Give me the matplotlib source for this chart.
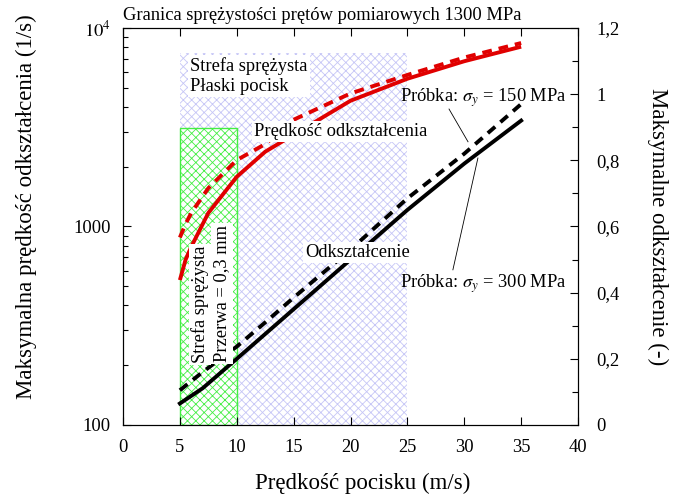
import matplotlib
matplotlib.use("Agg")
import matplotlib.pyplot as plt
from matplotlib.ticker import FuncFormatter, MultipleLocator, FixedLocator, LogLocator, NullFormatter
from matplotlib.patches import Rectangle

plt.rcParams['font.family'] = ['Liberation Serif', 'DejaVu Serif']
plt.rcParams['mathtext.fontset'] = 'stix'
plt.rcParams['hatch.linewidth'] = 0.6

# Data
speed_rate = [5, 5.5, 6, 7.5, 10, 12.5, 15, 20, 25, 30, 35]
rate_300 = [537, 680, 790, 1170, 1780, 2380, 2900, 4300, 5550, 6800, 8050]   # solid red (1/s)
rate_150 = [880, 1030, 1170, 1560, 2160, 2600, 3450, 4680, 5800, 7100, 8400]  # dashed red (1/s)

speed_strain = [5, 7, 10, 12.5, 15, 20, 25, 30, 35]
strain_300 = [0.065, 0.111, 0.20, 0.275, 0.35, 0.50, 0.65, 0.79, 0.92]   # solid black
strain_150 = [0.105, 0.160, 0.237, 0.31, 0.385, 0.53, 0.685, 0.82, 0.97]  # dashed black

green_zone = (5, 10, 3130)   # x from, x to, top (1/s)
blue_zone = (5, 25, 7500)

FS = 13.3

fig = plt.figure(figsize=(6.74, 4.97), dpi=100)
ax = fig.add_axes([0.1825, 0.1449, 0.6751, 0.7988])
ax.set_yscale('log')
ax.set_xlim(0, 40)
ax.set_ylim(100, 10000)

# zones
ax.add_patch(Rectangle((blue_zone[0], 100), blue_zone[1]-blue_zone[0], blue_zone[2]-100,
                       facecolor='none', edgecolor='#c6c6f6', hatch='xxxx', linewidth=0, zorder=1))
ax.add_patch(Rectangle((green_zone[0], 100), green_zone[1]-green_zone[0], green_zone[2]-100,
                       facecolor='white', edgecolor='#44ee44', hatch='xxxx', linewidth=1.0, zorder=1.5))

ax.plot(speed_rate, rate_300, color='#e00000', lw=2.8, solid_capstyle='butt', zorder=3)
ax.plot(speed_rate, rate_150, color='#e00000', lw=2.8, dashes=(2.5, 1.8), zorder=3)

ax.yaxis.set_major_locator(FixedLocator([100, 1000, 10000]))
ax.yaxis.set_minor_locator(LogLocator(base=10, subs=range(2, 10)))
ax.yaxis.set_minor_formatter(NullFormatter())
ax.yaxis.set_major_formatter(FuncFormatter(lambda v, p: {100: '100', 1000: '1000', 10000: r'$10^4$'}.get(int(round(v)), '')))
ax.xaxis.set_major_locator(MultipleLocator(5))
ax.tick_params(axis='both', which='major', direction='in', length=6, width=0.8, labelsize=FS, top=True)
ax.tick_params(axis='y', which='minor', direction='in', length=3.5, width=0.8)
ax.tick_params(axis='x', pad=10)
ax.tick_params(axis='y', pad=9)

ax2 = ax.twinx()
ax2.set_ylim(0, 1.2)
ax2.plot(speed_strain, strain_300, color='black', lw=2.8, zorder=3)
ax2.plot(speed_strain, strain_150, color='black', lw=2.8, dashes=(2.5, 1.8), zorder=3)
ax2.yaxis.set_major_locator(MultipleLocator(0.2))
ax2.yaxis.set_minor_locator(MultipleLocator(0.1))
ax2.yaxis.set_major_formatter(FuncFormatter(lambda v, p: ('%g' % round(v, 2)).replace('.', ',')))
ax2.tick_params(axis='y', which='major', direction='in', length=6, width=0.8, labelsize=FS, pad=13)
ax2.tick_params(axis='y', which='minor', direction='in', length=4, width=0.8)

for a in (ax, ax2):
    for s in a.spines.values():
        s.set_linewidth(0.8)

fig.text(363/674, 1-483/497, 'Prędkość pocisku (m/s)', fontsize=16.5, ha='center', va='center')
fig.text(26/674, 1-207/497, 'Maksymalna prędkość odkształcenia (1/s)', fontsize=16.5,
         rotation=90, ha='center', va='center')
fig.text(658/674, 1-227/497, 'Maksymalne odkształcenie (-)', fontsize=16.5,
         rotation=270, ha='center', va='center')

fig.text(0.1825, 0.968, 'Granica sprężystości prętów pomiarowych 1300 MPa', fontsize=FS,
         ha='left', va='center')

wb = dict(facecolor='white', edgecolor='none', pad=1.5)
ax2.text(5.9, 1.055, 'Strefa sprężysta\nPłaski pocisk', fontsize=FS, ha='left', va='center',
         linespacing=1.25, bbox=wb, zorder=5)
ax2.text(11.5, 0.886, 'Prędkość odkształcenia', fontsize=FS, ha='left', va='center', bbox=wb, zorder=5)
ax2.text(16.0, 0.52, 'Odkształcenie', fontsize=FS, ha='left', va='center', bbox=wb, zorder=5)
ax2.text(6.8, 0.187, 'Strefa sprężysta', fontsize=FS, rotation=90, ha='center', va='bottom', bbox=wb, zorder=5)
ax2.text(8.7, 0.19, 'Przerwa = 0,3 mm', fontsize=FS, rotation=90, ha='center', va='bottom', bbox=wb, zorder=5)
ax2.text(24.35, 0.99, r'Próbka: $\sigma_y$ = 150 MPa', fontsize=FS, ha='left', va='center', zorder=5)
ax2.text(24.35, 0.426, r'Próbka: $\sigma_y$ = 300 MPa', fontsize=FS, ha='left', va='center', zorder=5)
ax2.plot([28.66, 30.33], [0.955, 0.856], color='black', lw=0.6, zorder=5)
ax2.plot([29.0, 31.2], [0.469, 0.807], color='black', lw=0.6, zorder=5)

fig.savefig('out.png', dpi=100)
